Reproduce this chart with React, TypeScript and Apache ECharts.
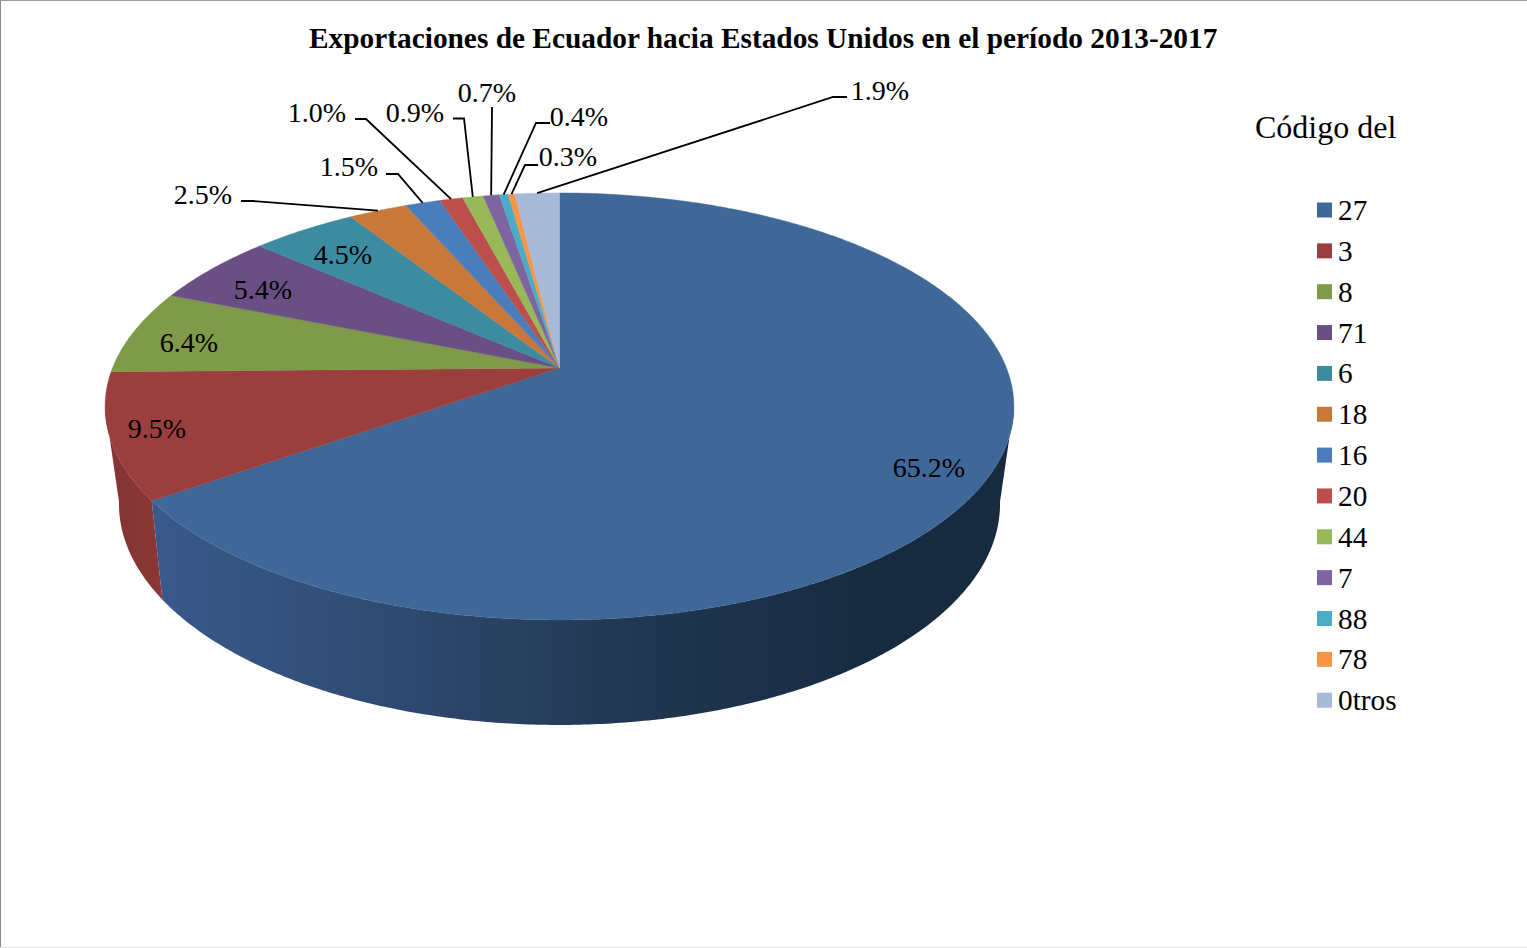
import React, { useEffect, useRef } from "react";
import * as echarts from "echarts";

const chartTitle = "Exportaciones de Ecuador hacia Estados Unidos en el período 2013-2017";
const legendTitle = "Código del";
const codes = ["27", "3", "8", "71", "6", "18", "16", "20", "44", "7", "88", "78", "0tros"];
const shares = [65.24, 9.48, 6.38, 5.38, 4.48, 2.48, 1.48, 0.98, 0.88, 0.68, 0.38, 0.28, 1.88];
const colors = ["#3f6797", "#9a3f3d", "#7f9a48", "#694f84", "#3c8ba1", "#c8793a", "#4a7dbb", "#bc4e4b", "#98b859", "#7f64a2", "#4bacc6", "#f79646", "#a9b9d8"];

// label centres [x, y]
const labelCentres = [
  [929, 467], [157, 428], [189, 342], [263, 289], [343, 254], [203, 194],
  [349, 166], [317, 112], [415, 112], [487, 92], [579, 116], [568, 156], [880, 90],
];
// leader lines: start and elbow, the end being computed on the slice's rim (null: label inside)
const leaderStarts: (number[][] | null)[] = [
  null, null, null, null, null,
  [[241, 201], [253, 201]],
  [[386, 174], [398, 174]],
  [[355, 119], [366, 119]],
  [[453, 118.5], [464, 118.5]],
  [[492, 107]],
  [[550, 123], [536, 123]],
  [[538, 165], [525, 165]],
  [[847, 97], [833, 97]],
];

const total = shares.reduce((s, v) => s + v, 0);
const starts = shares.map((_, i) => shares.slice(0, i).reduce((s, v) => s + v, 0));

const topPlane = { cx: 559.5, cy: 368, a: 206.6, b: 447, k: -0.18 };
const basePlane = { cx: 559.5, cy: 462, a: 213, b: 432.5, k: -0.19 };
const visibleSide = [100.4, 259.6];

function project(deg: number, p: typeof topPlane) {
  const t = (deg * Math.PI) / 180;
  const u = Math.sin(t);
  const v = -Math.cos(t);
  const d = 1 + p.k * v;
  return [p.cx + (p.b * u) / d, p.cy + (p.a * v) / d];
}

function arc(from: number, to: number, p: typeof topPlane) {
  const pts: number[][] = [];
  const n = Math.max(2, Math.ceil((to - from) * 2));
  for (let i = 0; i <= n; i++) pts.push(project(from + ((to - from) * i) / n, p));
  return pts;
}

function sideFill(i: number) {
  if (i === 0) {
    return new echarts.graphic.LinearGradient(163, 0, 880, 0, [
      { offset: 0, color: "#38598a" },
      { offset: 0.33, color: "#2e4a70" },
      { offset: 0.62, color: "#223954" },
      { offset: 1, color: "#172a40" },
    ], true);
  }
  if (i === 1) {
    return new echarts.graphic.LinearGradient(108, 0, 163, 0, [
      { offset: 0, color: "#823533" },
      { offset: 1, color: "#8b3836" },
    ], true);
  }
  return colors[i];
}

const font = "Liberation Serif, Times New Roman, serif";

function renderSlice(i: number) {
  return (_params: any, api: any) => {
    const value = api.value(0);
    const from = (starts[i] / total) * 360;
    const to = from + (value / total) * 360;
    const children: any[] = [];
    const s0 = Math.max(from, visibleSide[0]);
    const s1 = Math.min(to, visibleSide[1]);
    if (s1 > s0) {
      const pts = [...arc(s0, s1, topPlane), ...arc(s0, s1, basePlane).reverse()];
      children.push({ type: "polygon", shape: { points: pts }, style: { fill: sideFill(i) } });
    }
    const topPts = [[topPlane.cx, topPlane.cy], ...arc(from, to, topPlane)];
    children.push({
      type: "polygon",
      shape: { points: topPts },
      style: { fill: colors[i], stroke: colors[i], lineWidth: 0.4 },
    });
    const lead = leaderStarts[i];
    if (lead) {
      const mid = project((from + to) / 2, topPlane);
      children.push({
        type: "polyline",
        shape: { points: [...lead, mid] },
        style: { fill: "none", stroke: "#000", lineWidth: 1.8 },
      });
    }
    children.push({
      type: "text",
      style: {
        text: value.toFixed(1) + "%",
        x: labelCentres[i][0],
        y: labelCentres[i][1],
        align: "center",
        verticalAlign: "middle",
        fontFamily: font,
        fontSize: 28,
        fill: "#000",
      },
    });
    return { type: "group", children };
  };
}

export default function App() {
  const ref = useRef<HTMLDivElement>(null);
  useEffect(() => {
    document.body.style.margin = "0";
    document.documentElement.style.overflow = "hidden";
    const chart = echarts.init(ref.current!, undefined, { renderer: "svg" });
    chart.setOption({
      animation: false,
      backgroundColor: "#fff",
      title: [
        {
          text: chartTitle,
          left: 309,
          top: 23,
          padding: 0,
          textStyle: { fontFamily: font, fontSize: 29.35, fontWeight: "bold", color: "#000" },
        },
        {
          text: legendTitle,
          left: 1255,
          top: 111,
          padding: 0,
          textStyle: { fontFamily: font, fontSize: 32, fontWeight: "normal", color: "#000" },
        },
      ],
      legend: {
        orient: "vertical",
        left: 1317,
        top: 195.5,
        padding: 0,
        itemWidth: 15,
        itemHeight: 15,
        itemGap: 11.85,
        selectedMode: false,
        icon: "rect",
        data: codes,
        textStyle: { fontFamily: font, fontSize: 29.3, color: "#000", padding: [0, 0, 0, 1], lineHeight: 28 },
      },
      graphic: [
        { type: "line", shape: { x1: 0.5, y1: 0, x2: 0.5, y2: 948 }, style: { stroke: "#888", lineWidth: 1 } },
        { type: "line", shape: { x1: 0, y1: 0.5, x2: 1527, y2: 0.5 }, style: { stroke: "#999", lineWidth: 1 } },
        { type: "line", shape: { x1: 0, y1: 947.5, x2: 1527, y2: 947.5 }, style: { stroke: "#e6e6e6", lineWidth: 1 } },
      ],
      series: codes.map((name, i) => ({
        type: "custom",
        name,
        coordinateSystem: "none",
        silent: true,
        itemStyle: { color: colors[i] },
        data: [{ name, value: [shares[i]] }],
        renderItem: renderSlice(i),
      })),
    });
    return () => chart.dispose();
  }, []);
  return <div ref={ref} style={{ width: 1527, height: 948 }} />;
}
